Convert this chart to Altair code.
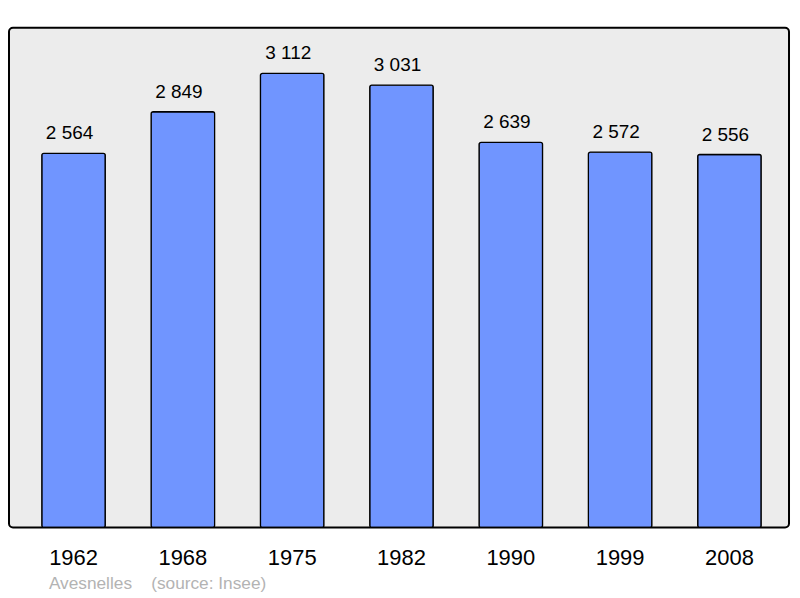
import altair as alt
import pandas as pd

years = ["1962", "1968", "1975", "1982", "1990", "1999", "2008"]
population = [2564, 2849, 3112, 3031, 2639, 2572, 2556]
labels = [f"{v:,}".replace(",", " ") for v in population]
source_note = ["Avesnelles\u00a0\u00a0\u00a0\u00a0(source: Insee)"]

df = pd.DataFrame({"year": years, "pop": population, "label": labels})
note_df = pd.DataFrame({"note": source_note})

FONT = "Liberation Sans"

x = alt.X("year:N", sort=years, title=None,
          scale=alt.Scale(paddingInner=0.419, paddingOuter=0.3, range=[0, 787],
                          round=False),
          axis=alt.Axis(labelAngle=0, labelFontSize=22, labelFont=FONT,
                        labelColor="#000000", ticks=False, tickSize=0,
                        domain=False, grid=False, labelPadding=37,
                        labelBaseline="alphabetic"))
y = alt.Y("pop:Q", title=None, scale=alt.Scale(domain=[0, 3425], nice=False),
          axis=None)

bars = alt.Chart(df).mark_bar(color="#7095ff", stroke="#000000", strokeWidth=1.3,
                              cornerRadius=2).encode(x=x, y=y)

text = alt.Chart(df).mark_text(font=FONT, fontSize=19, color="#000000",
                               baseline="alphabetic", dy=-14, dx=-4).encode(
    x=alt.X("year:N", sort=years), y="pop:Q", text="label:N")

note = alt.Chart(note_df).mark_text(font=FONT, fontSize=17.3, color="#b3b3b3",
                                    align="left", baseline="alphabetic").encode(
    x=alt.value(40), y=alt.value(563), text="note:N")

chart = alt.layer(bars, text, note).properties(
    width=782, height=501,
    autosize=alt.AutoSizeParams(type="none"),
    padding={"left": 1, "top": 19, "right": 3, "bottom": 70},
    background="white",
).configure_view(fill="#ececec", stroke="#000000", strokeWidth=2, cornerRadius=4)

chart.save("out.html", embed_options={"renderer": "svg", "actions": False})
